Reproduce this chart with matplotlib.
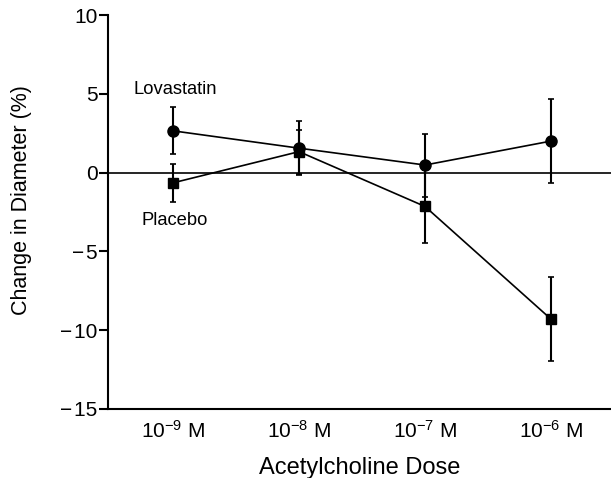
import matplotlib
matplotlib.use("Agg")
import matplotlib.pyplot as plt
import numpy as np

plt.rcParams['font.family'] = ['Liberation Sans', 'DejaVu Sans']
plt.rcParams['mathtext.fontset'] = 'custom'
plt.rcParams['mathtext.rm'] = 'Liberation Sans'
plt.rcParams['mathtext.it'] = 'Liberation Sans:italic'

doses = ['10$^{-9}$ M', '10$^{-8}$ M', '10$^{-7}$ M', '10$^{-6}$ M']
lova = [2.65, 1.55, 0.48, 2.0]
lova_err = [1.5, 1.7, 2.0, 2.65]
plac = [-0.65, 1.33, -2.15, -9.3]
plac_err = [1.2, 1.4, 2.3, 2.65]
yticks = [-15, -10, -5, 0, 5, 10]

x = np.arange(len(doses))

fig = plt.figure(figsize=(6.11, 4.78), dpi=100)
ax = fig.add_axes([0.1768, 0.1444, 0.8232, 0.8242])

ax.axhline(0, color='black', lw=1.2, zorder=1)

ax.errorbar(x, lova, yerr=lova_err, fmt='-o', color='black', ms=8,
            lw=1.2, elinewidth=1.5, capsize=2.3, capthick=1.2, zorder=3)
ax.errorbar(x, plac, yerr=plac_err, fmt='-s', color='black', ms=7.5,
            lw=1.2, elinewidth=1.5, capsize=2.3, capthick=1.2, zorder=3)

ax.text(0.016, 5.27, 'Lovastatin', fontsize=13.2, ha='center', va='center')
ax.text(0.016, -3.03, 'Placebo', fontsize=13.2, ha='center', va='center')

ax.set_xlim(-0.516, 3.476)
ax.set_ylim(-15, 10)
ax.set_yticks(yticks)
ax.set_yticklabels([str(v).replace('-', '\u2212\u200a') for v in yticks])
ax.set_xticks(x)
ax.set_xticklabels(doses)
ax.tick_params(axis='x', length=0, labelsize=15, pad=8)
ax.tick_params(axis='y', length=6.5, width=1.5, labelsize=15, pad=1)

for s in ['top', 'right']:
    ax.spines[s].set_visible(False)
for s in ['left', 'bottom']:
    ax.spines[s].set_linewidth(1.5)

ax.set_ylabel('Change in Diameter (%)', fontsize=15.5)
ax.set_xlabel('Acetylcholine Dose', fontsize=17)
ax.yaxis.set_label_coords(-0.151, 0.53)
ax.xaxis.set_label_coords(0.5, -0.122)

fig.savefig('out.png', dpi=100)
